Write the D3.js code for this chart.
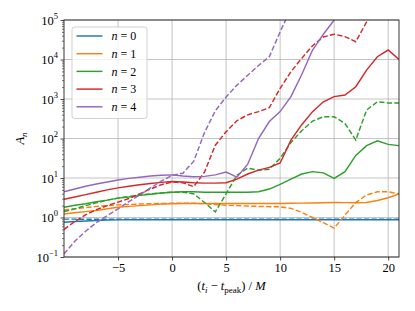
<!DOCTYPE html>
<html>
<head>
<meta charset="utf-8">
<script src="https://cdn.jsdelivr.net/npm/d3@7"></script>
<style>
body { margin: 0; background: #fff; }
svg { display: block; }
text { font-family: "Liberation Serif", "DejaVu Serif", serif; }
</style>
</head>
<body>
<div id="chart"></div>
<script>
// time after peak, in units of M
const t = [-10, -9, -8, -7, -6, -5, -4, -3, -2, -1, 0, 1, 2, 3, 4, 5, 6, 7, 8, 9, 10,
           11, 12, 13, 14, 15, 16, 17, 18, 19, 20, 21];

// A_n, solid lines
const amp0 = [0.76, 0.79, 0.82, 0.84, 0.86, 0.87, 0.88, 0.88, 0.88, 0.88, 0.88, 0.88, 0.88, 0.88, 0.88, 0.88,
              0.88, 0.88, 0.88, 0.88, 0.88, 0.88, 0.88, 0.88, 0.88, 0.88, 0.88, 0.88, 0.88, 0.88, 0.88, 0.88];
const amp1 = [1.23, 1.32, 1.41, 1.51, 1.66, 1.82, 1.91, 2.0, 2.09, 2.19, 2.24, 2.26, 2.26, 2.26, 2.26, 2.26,
              2.26, 2.26, 2.26, 2.26, 2.26, 2.29, 2.31, 2.33, 2.36, 2.4, 2.38, 2.37, 2.4, 2.69, 3.16, 3.94];
const amp2 = [1.82, 2.04, 2.24, 2.51, 2.75, 3.09, 3.31, 3.63, 3.89, 4.17, 4.37, 4.47, 4.47, 4.37, 4.37, 4.37,
              4.37, 4.37, 4.47, 5.25, 6.92, 9.33, 12.6, 14.5, 13.5, 9.77, 14.5, 37.2, 66, 87, 71, 66];
const amp3 = [2.88, 3.31, 3.8, 4.37, 5.01, 5.62, 6.17, 6.76, 7.24, 7.76, 8.13, 7.94, 7.59, 7.41, 7.41, 7.59,
              9.33, 12.6, 15.8, 18.6, 24.0, 91, 224, 479, 851, 1148, 1259, 2042, 5370, 11750, 17380, 10000];
const amp4 = [4.47, 5.25, 6.17, 7.08, 7.94, 8.91, 9.77, 10.5, 11.2, 11.7, 12.0, 11.2, 10.7, 11.0, 12.0, 14.1,
              10.5, 22.4, 100, 269, 479, 1148, 4169, 17380, 43650, 100000, 251000, null, null, null, null, null];

// A_n, dashed lines
const amp0Dash = [0.91, 0.91, 0.9, 0.9, 0.9, 0.9, 0.9, 0.9, 0.9, 0.9, 0.9, 0.9, 0.9, 0.9, 0.9, 0.9,
                  0.9, 0.9, 0.9, 0.9, 0.9, 0.9, 0.9, 0.9, 0.9, 0.9, 0.9, 0.9, 0.9, 0.9, 0.9, 0.9];
const amp1Dash = [1.55, 1.66, 1.78, 1.91, 2.0, 2.09, 2.14, 2.19, 2.24, 2.26, 2.29, 2.29, 2.29, 2.24, 2.14, 2.04,
                  2.0, 1.95, 1.91, 1.88, 1.86, 1.7, 1.35, 1.0, 0.74, 0.54, 1.15, 2.4, 3.72, 4.47, 4.47, 3.98];
const amp2Dash = [1.41, 1.66, 2.0, 2.34, 2.75, 3.09, 3.39, 3.72, 3.98, 4.17, 4.37, 4.37, 3.98, 2.4, 1.38, 3.98,
                  11.7, 17.8, 15.8, 16.6, 31.6, 79, 158, 275, 355, 355, 240, 91, 525, 851, 794, 794];
const amp3Dash = [0.5, 0.79, 1.17, 1.58, 2.0, 2.45, 3.02, 3.98, 5.25, 6.76, 7.94, 7.59, 6.03, 14.1, 67.6, 148,
                  282, 398, 479, 603, 1862, 4898, 10700, 22390, 37150, 43650, 38020, 28180, 89130, 199500, null, null];
const amp4Dash = [0.12, 0.25, 0.45, 0.74, 1.12, 1.66, 2.51, 3.72, 5.62, 8.32, 11.7, 13.2, 26.3, 141, 501, 1122,
                  2239, 3981, 7079, 11750, 50120, 199500, null, null, null, null, null, null, null, null, null, null];

const modes = ["0", "1", "2", "3", "4"];
const colors = ["#1f77b4", "#ff7f0e", "#2ca02c", "#d62728", "#9467bd"];
const xTicks = [-5, 0, 5, 10, 15, 20];
const yExps = [-1, 0, 1, 2, 3, 4, 5];

const solid = [amp0, amp1, amp2, amp3, amp4];
const dashed = [amp0Dash, amp1Dash, amp2Dash, amp3Dash, amp4Dash];

var width = 415, height = 311;
var margin = { top: 20, right: 16, bottom: 54, left: 64 };
var w = width - margin.left - margin.right;
var h = height - margin.top - margin.bottom;

var svg = d3.select("#chart").append("svg")
    .attr("width", width)
    .attr("height", height);

var g = svg.append("g")
    .attr("transform", "translate(" + margin.left + "," + margin.top + ")");

var x = d3.scaleLinear().domain([-10, 21]).range([0, w]);
var y = d3.scaleLog().domain([0.1, 1e5]).range([h, 0]);

svg.append("defs").append("clipPath").attr("id", "clip")
    .append("rect").attr("width", w).attr("height", h);

// grid
g.append("g").selectAll("line").data(xTicks).enter().append("line")
    .attr("x1", d => x(d)).attr("x2", d => x(d))
    .attr("y1", 0).attr("y2", h)
    .attr("stroke", "#b0b0b0").attr("stroke-opacity", 0.75).attr("stroke-width", 1);
g.append("g").selectAll("line").data(yExps).enter().append("line")
    .attr("x1", 0).attr("x2", w)
    .attr("y1", d => y(Math.pow(10, d))).attr("y2", d => y(Math.pow(10, d)))
    .attr("stroke", "#b0b0b0").attr("stroke-opacity", 0.75).attr("stroke-width", 1);

// curves
var line = d3.line()
    .defined(d => d[1] != null)
    .x(d => x(d[0]))
    .y(d => y(d[1]));

var plot = g.append("g").attr("clip-path", "url(#clip)");

modes.forEach(function(m, i) {
    plot.append("path")
        .datum(t.map((tt, k) => [tt, dashed[i][k]]))
        .attr("d", line)
        .attr("fill", "none")
        .attr("stroke", colors[i])
        .attr("stroke-width", 1.45)
        .attr("stroke-dasharray", "5.2,2.3");
    plot.append("path")
        .datum(t.map((tt, k) => [tt, solid[i][k]]))
        .attr("d", line)
        .attr("fill", "none")
        .attr("stroke", colors[i])
        .attr("stroke-width", 1.45);
});

// axes
var minor = [];
for (var e = -1; e < 5; e++) {
    [2, 3, 4, 5, 6, 7, 8, 9].forEach(k => minor.push(k * Math.pow(10, e)));
}

var xAxis = g.append("g")
    .attr("transform", "translate(0," + h + ")")
    .call(d3.axisBottom(x).tickValues(xTicks).tickSize(3.5).tickPadding(3)
        .tickFormat(d => d < 0 ? "\u2212" + Math.abs(d) : d));
xAxis.select(".domain").remove();
xAxis.selectAll("text").attr("font-size", 12.5).attr("fill", "#000")
    .attr("font-family", "Liberation Serif, serif");
xAxis.selectAll("line").attr("stroke", "#222").attr("stroke-width", 0.8);

var yMinor = g.append("g")
    .call(d3.axisLeft(y).tickValues(minor).tickSize(2).tickFormat(""));
yMinor.select(".domain").remove();
yMinor.selectAll("line").attr("stroke", "#222").attr("stroke-width", 0.6);

var yAxis = g.append("g")
    .call(d3.axisLeft(y).tickValues(yExps.map(d => Math.pow(10, d))).tickSize(3.5).tickPadding(3)
        .tickFormat(""));
yAxis.select(".domain").remove();
yAxis.selectAll("line").attr("stroke", "#222").attr("stroke-width", 0.8);

var yLab = g.append("g").selectAll("text").data(yExps).enter().append("text")
    .attr("x", -6)
    .attr("y", d => y(Math.pow(10, d)) + 4.5)
    .attr("text-anchor", "end")
    .attr("font-size", 12.5)
    .attr("fill", "#000");
yLab.append("tspan").text("10");
yLab.append("tspan")
    .attr("dy", -6)
    .attr("font-size", 8.5)
    .text(d => d < 0 ? "\u2212" + Math.abs(d) : d);

// frame
g.append("rect")
    .attr("width", w).attr("height", h)
    .attr("fill", "none")
    .attr("stroke", "#222")
    .attr("stroke-width", 0.9);

// axis labels
var xl = svg.append("text")
    .attr("x", margin.left + w / 2)
    .attr("y", 290)
    .attr("text-anchor", "middle")
    .attr("font-size", 12.5);
xl.append("tspan").text("(");
xl.append("tspan").attr("font-style", "italic").text("t");
xl.append("tspan").attr("font-size", 9).attr("dy", 3).attr("font-style", "italic").text("i");
xl.append("tspan").attr("dy", -3).text(" \u2212 ");
xl.append("tspan").attr("font-style", "italic").text("t");
xl.append("tspan").attr("font-size", 9).attr("dy", 3).text("peak");
xl.append("tspan").attr("dy", -3).text(")  /  ");
xl.append("tspan").attr("font-style", "italic").text("M");

var yl = svg.append("text")
    .attr("transform", "translate(24," + (margin.top + h / 2) + ") rotate(-90)")
    .attr("text-anchor", "middle")
    .attr("font-size", 12.5);
yl.append("tspan").attr("font-style", "italic").text("A");
yl.append("tspan").attr("font-style", "italic").attr("font-size", 9).attr("dy", 3).text("n");

// legend
var lg = g.append("g").attr("transform", "translate(8,7)");
lg.append("rect")
    .attr("width", 75).attr("height", 91.5)
    .attr("rx", 2.5)
    .attr("fill", "#fff").attr("fill-opacity", 0.8)
    .attr("stroke", "#cccccc").attr("stroke-width", 0.9);

var rows = lg.selectAll("g.row").data(modes).enter().append("g")
    .attr("class", "row")
    .attr("transform", (d, i) => "translate(0," + (9 + i * 17.7) + ")");
rows.append("line")
    .attr("x1", 4.5).attr("x2", 30.5)
    .attr("stroke", (d, i) => colors[i])
    .attr("stroke-width", 1.45);
var lt = rows.append("text")
    .attr("x", 39.5).attr("y", 4.2)
    .attr("font-size", 12);
lt.append("tspan").attr("font-style", "italic").text("n");
lt.append("tspan").text(d => " = " + d);
</script>
</body>
</html>
